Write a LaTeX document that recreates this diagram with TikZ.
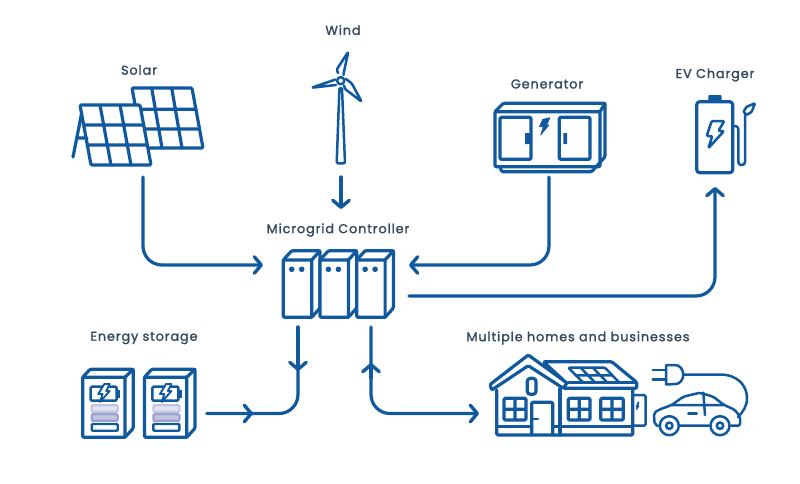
\documentclass[tikz,border=0pt]{standalone}
\usepackage{fontspec}
\setmainfont{Poppins}[RawFeature={embolden=1.6},LetterSpace=7]
\usetikzlibrary{arrows.meta}
\definecolor{mgblue}{HTML}{11599F}
\definecolor{mgtext}{HTML}{34495E}
\definecolor{mglight}{HTML}{C3C6E2}
\definecolor{mgmid}{HTML}{9DA2D2}
\tikzset{
  icon/.style={draw=mgblue,line width=3.2pt,line join=round,line cap=round,rounded corners=1.2pt},
  thin icon/.style={icon,line width=2.5pt},
  solid icon/.style={fill=mgblue,draw=mgblue,line width=.6pt,line join=round},
  label/.style={font=\fontsize{12.8}{14}\selectfont,text=mgtext,inner sep=0pt,anchor=center},
  link/.style={draw=mgblue,line width=3.2pt,line cap=round,rounded corners=19pt},
  tipped/.style={-{Straight Barb[length=7pt,width=16.5pt,line width=3.4pt,round]}},
  cabinet/.pic={
    \draw[icon,fill=white] (8.4,-9.3) -- (36.7,-9.3) -- (36.7,48) -- (28.4,57.3) -- (0,57.3) -- (0,0) -- cycle;
    \draw[icon] (0,0) -- (28.4,0) -- (36.7,-9.3) (28.4,0) -- (28.4,57.3);
    \fill[mgblue] (8.4,9.3) circle (2.8pt) (18.4,9.3) circle (2.8pt);
  },
  storage/.pic={
    \draw[icon,fill=white] (7.3,-8) -- (50.6,-8) -- (50.6,51) -- (42.3,60) -- (0,60) -- (0,0) -- cycle;
    \draw[icon] (0,0) -- (42.3,0) -- (50.6,-8) (42.3,0) -- (42.3,60);
    \draw[thin icon] (8,9.4) rectangle (34,23.4);
    \fill[mgblue] (34.6,12.6) rectangle (37.4,20.4);
    \draw[draw=mgblue,fill=white,line width=1.9pt,line join=round] (21.6,6.7) -- (27,6.7) -- (23.5,13.7) -- (27,13.7) -- (17.4,24.6) -- (19.8,16.7) -- (15.6,16.7) -- cycle;
    \draw[draw=mglight,fill=mglight!45,line width=2.2pt,rounded corners=1pt] (9,28) rectangle (35,34.4);
    \draw[draw=mgmid,fill=mglight,line width=2.2pt,rounded corners=1pt] (9,37) rectangle (35,43.4);
    \draw[draw=mgblue,fill=white,line width=2.4pt,rounded corners=1pt] (9,46.7) rectangle (35,53.4);
  }
}
\begin{document}
\begin{tikzpicture}[x=1pt,y=-1pt]
\useasboundingbox (0,0) rectangle (800,483);
\fill[white] (0,0) rectangle (800,483);

% labels
\node[label] (solarLabel) at (139,70) {Solar};
\node[label] (windLabel) at (343,30) {Wind};
\node[label] (genLabel) at (547,84) {Generator};
\node[label] (evLabel) at (715,75) {EV Charger};
\node[label] (ctrlLabel) at (338,230) {Microgrid Controller};
\node[label] (storeLabel) at (144,338) {Energy storage};
\node[label] (homeLabel) at (578,338) {Multiple homes and businesses};

% solar
\draw[icon] (132,88) -- (192,88) -- (203,148) -- (143,148) -- cycle;
\draw[icon] (140,109.3) -- (195.6,109.3) (143,129) -- (199.4,129)
  (151.7,88) -- (162,148) (171.7,88) -- (182,148);
\draw[icon,fill=white] (80,105) -- (140,105) -- (151,165) -- (91,165) -- cycle;
\draw[icon] (83.6,125) -- (143.6,125) (87.3,145) -- (147.3,145)
  (100,105) -- (111,165) (120,105) -- (131,165);
\draw[icon] (81.7,113) -- (73,157) (77,138) -- (87,138);

% wind
\draw[thin icon] (339.4,88) -- (342,88) -- (345,163.3) -- (336.7,163.3) -- cycle;
\draw[thin icon] (338,73) -- (336.7,69.5) -- (348.3,51.7) -- (344,71.7) -- (343.5,75);
\draw[thin icon] (335.5,79.5) -- (311.7,87.7) -- (336,85);
\draw[thin icon] (346,79) -- (351.7,83.3) -- (361.7,101.7) -- (345,89) -- (344,85.5);
\draw[thin icon,fill=white] (340.7,80.7) circle (3.6pt);

% generator
\draw[icon] (495,111.7) -- (503.3,103.3) -- (605,103.3) -- (605,156.7) -- (591.7,171.7) -- (501.7,171.7) -- (500,166.7);
\draw[icon] (495,111.7) rectangle (600,166.7);
\draw[icon] (600,111.7) -- (605,103.3);
\draw[icon] (500,117.3) rectangle (531,159.3) (559.3,117.3) rectangle (590,159.3);
\fill[mgblue] (525,133) rectangle (530,144) (563.3,133) rectangle (567,144);
\draw[solid icon] (542.7,119.3) -- (550,117.7) -- (546.7,125) -- (549,125) -- (540.7,135) -- (543.3,126.7) -- (539.3,126.7) -- cycle;

% EV charger
\draw[icon,rounded corners=3pt] (696.7,101.7) rectangle (732.7,172.7);
\fill[mgblue,rounded corners=1pt] (708.3,95) rectangle (721.7,102);
\draw[thin icon] (711.7,121) -- (724.3,121) -- (718.3,131) -- (724,131) -- (708.3,148.3) -- (712.3,136) -- (706.7,136) -- cycle;
\draw[thin icon,rounded corners=3pt] (732.7,126) -- (738.3,126) -- (738.3,165) -- (745,165) -- (745,113);
\draw[thin icon,fill=white,rounded corners=.8pt] (743.5,111.7) -- (746.7,106.7) -- (755,103.3) -- (751.7,111.7) -- (746.7,115) -- cycle;

% controller
\pic at (283.3,260) {cabinet};
\pic at (320,260) {cabinet};
\pic at (356.7,260) {cabinet};

% storage
\pic at (82.7,377.3) {storage};
\pic at (144.4,377.3) {storage};

% house
\draw[icon] (496.7,390) -- (496.7,435) -- (632.7,435) -- (632.7,390);
\draw[icon] (497,426.7) -- (531.7,426.7) (552.7,426.7) -- (632.7,426.7);
\draw[icon] (560,389) -- (560,435);
\draw[icon,fill=white] (543.3,361.7) -- (611.7,361.7) -- (636.7,382.3) -- (636.7,388.3) -- (563.3,388.3) -- (563.3,380) -- cycle;
\draw[thin icon,fill=white] (568.3,367.7) -- (605,367.7) -- (619.3,382.6) -- (583.3,382.6) -- cycle;
\draw[thin icon] (575.6,375.4) -- (612.4,375.4) (580.5,367.7) -- (595.3,382.6) (592.8,367.7) -- (607.3,382.6);
\draw[icon] (568,382.5) -- (636,382.5);
\draw[icon,fill=white] (490,384.5) -- (528.3,355) -- (567,383) -- (563.3,388.3) -- (528.3,365.7) -- (491.7,390) -- cycle;
\draw[icon,rounded corners=3pt] (527.3,378.3) rectangle (536,394.3);
\draw[icon] (504,398.3) rectangle (526,420) (515,398.3) -- (515,420) (504,409.2) -- (526,409.2);
\draw[icon] (568.3,398.3) rectangle (590,420) (579.2,398.3) -- (579.2,420) (568.3,409.2) -- (590,409.2);
\draw[icon] (600.7,398.3) rectangle (623.3,420) (612,398.3) -- (612,420) (600.7,409.2) -- (623.3,409.2);
\draw[icon] (531.7,435) -- (531.7,402.3) -- (552.7,402.3) -- (552.7,435);
\draw[thin icon] (533,419) -- (538,419);
\draw[thin icon,rounded corners=1.5pt] (633,395) -- (645.7,395) -- (645.7,425.7) -- (633,425.7);
\draw[solid icon] (638,402) -- (639,402) -- (638,406) -- (639,406) -- (636.5,410) -- (637,407) -- (636,407) -- cycle;

% plug and car
\draw[thin icon,rounded corners=0pt] (666,365) -- (675,365) arc[start angle=-90,end angle=90,x radius=8.3pt,y radius=-9.6pt] -- (666,384.3) -- cycle;
\draw[thin icon] (652.7,370) -- (666,370) (652.7,379.3) -- (666,379.3);
\draw[thin icon,rounded corners=0pt] (683.3,374.5) -- (720,374.5) .. controls (738,374.5) and (747,386) .. (747,398) .. controls (747,406) and (743,412) .. (738,417);
\draw[thin icon,rounded corners=2pt] (658,426) -- (654.5,424) -- (654,413) -- (658.3,410) -- (671.7,405) -- (683.3,396.7) -- (700,392.7) -- (713.3,396.7) -- (723.3,404.5) -- (735,410) -- (740,416.7) -- (740,425.7) -- (731,425.7);
\draw[thin icon] (680,425.7) -- (709,425.7) (671.7,405) -- (723.3,405) (703.3,392.7) -- (705,415);
\draw[thin icon] (688.3,413.3) -- (696.7,413.3);
\draw[thin icon,fill=white] (669.3,425.7) circle (9.5pt) (720,425.7) circle (9.5pt);
\draw[thin icon] (669.3,425.7) circle (3.2pt) (720,425.7) circle (3.2pt);

% connector ends
\coordinate (solarOut) at (143,177);
\coordinate (ctrlWest) at (263,265);
\coordinate (windOut) at (341,177);
\coordinate (ctrlNorth) at (341,209);
\coordinate (genOut) at (549,177);
\coordinate (ctrlEastIn) at (409,265);
\coordinate (ctrlEastOut) at (409,296);
\coordinate (evIn) at (715,187);
\coordinate (ctrlSouthL) at (298,327);
\coordinate (storeMid) at (298,371);
\coordinate (storeOut) at (207,413.5);
\coordinate (storeTip) at (253,413.5);
\coordinate (ctrlSouthR) at (371,327);
\coordinate (homeTail) at (371,378);
\coordinate (homeMid) at (371,363);
\coordinate (homeIn) at (479,413.5);

% connectors
\draw[link,tipped] (solarOut) |- (ctrlWest);
\draw[link,tipped,rounded corners=0pt] (windOut) -- (ctrlNorth);
\draw[link,tipped] (genOut) |- (ctrlEastIn);
\draw[link,tipped] (ctrlEastOut) -| (evIn);
\draw[link] (ctrlSouthL) |- (storeOut);
\draw[link,tipped,rounded corners=0pt] (ctrlSouthL) -- (storeMid);
\draw[link,tipped,rounded corners=0pt] (storeOut) -- (storeTip);
\draw[link,tipped] (ctrlSouthR) |- (homeIn);
\draw[link,tipped,rounded corners=0pt] (homeTail) -- (homeMid);
\end{tikzpicture}
\end{document}
